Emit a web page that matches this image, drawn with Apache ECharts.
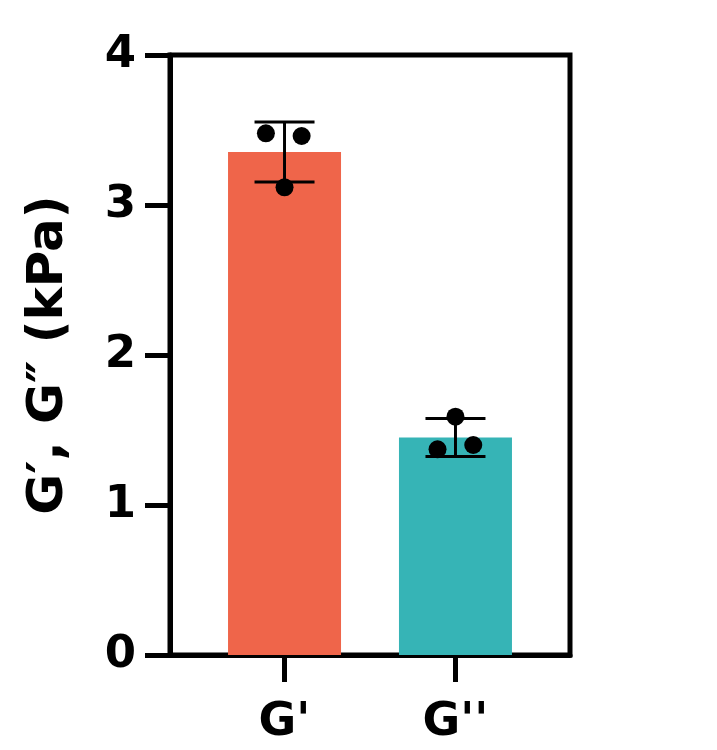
<!DOCTYPE html>
<html><head><meta charset="utf-8">
<script src="https://cdn.jsdelivr.net/npm/echarts@6/dist/echarts.min.js"></script>
<style>html,body{margin:0;padding:0;background:#fff}#c{width:717px;height:750px}</style>
</head><body><div id="c"></div>
<script>
const categories = ["G'", "G''"];
const positions = [1, 2];
const means = [3.353, 1.45];
const sds = [0.2, 0.126];
const barColors = ['#EF654A', '#36B4B6'];
const pointsG1 = [3.478, 3.46, 3.118];
const pointsG2 = [1.589, 1.371, 1.40];
const jitterG1 = [-0.109, 0.100, 0];
const jitterG2 = [0, -0.105, 0.104];
const yTicks = [0, 1, 2, 3, 4];

const FONT = 'DejaVu Sans';
const chart = echarts.init(document.getElementById('c'));

const barData = positions.map((p, i) => ({value: [p, means[i]], itemStyle: {color: barColors[i]}}));
const errData = positions.map((p, i) => [p, means[i] - sds[i], means[i] + sds[i]]);
const dotData = [];
pointsG1.forEach((v, i) => dotData.push([positions[0] + jitterG1[i], v]));
pointsG2.forEach((v, i) => dotData.push([positions[1] + jitterG2[i], v]));

chart.setOption({
  animation: false,
  grid: {left: 170, right: 147, top: 55, bottom: 95, show: true, borderColor: '#000', borderWidth: 5, backgroundColor: 'transparent'},
  xAxis: {
    type: 'value', min: 0.33, max: 2.67,
    splitLine: {show: false},
    axisLine: {show: true, lineStyle: {color: '#000', width: 5}},
    axisTick: {show: true, length: 27, lineStyle: {color: '#000', width: 5}, customValues: positions},
    axisLabel: {customValues: positions, margin: 45, color: '#000', fontFamily: FONT, fontWeight: 'bold', fontSize: 46,
      formatter: v => categories[positions.indexOf(v)] ?? ''}
  },
  yAxis: {
    type: 'value', min: 0, max: 4, interval: 1,
    splitLine: {show: false},
    axisLine: {show: true, lineStyle: {color: '#000', width: 5}},
    axisTick: {show: true, length: 25, lineStyle: {color: '#000', width: 5}},
    axisLabel: {margin: 34, color: '#000', fontFamily: FONT, fontWeight: 'bold', fontSize: 45,
      formatter: v => yTicks.includes(v) ? String(v) : ''},
    name: 'G\u2032, G\u2033 (kPa)', nameLocation: 'middle', nameGap: 96,
    nameTextStyle: {color: '#000', fontFamily: FONT, fontWeight: 'bold', fontSize: 50}
  },
  series: [
    {type: 'bar', data: barData, barWidth: 113, z: 2},
    {type: 'custom', z: 3, data: errData,
      renderItem: (params, api) => {
        const x = api.value(0);
        const lo = api.coord([x, api.value(1)]);
        const hi = api.coord([x, api.value(2)]);
        const hw = 30;
        const st = {stroke: '#000', lineWidth: 3};
        return {type: 'group', children: [
          {type: 'line', shape: {x1: lo[0], y1: lo[1], x2: hi[0], y2: hi[1]}, style: st},
          {type: 'line', shape: {x1: lo[0] - hw, y1: lo[1], x2: lo[0] + hw, y2: lo[1]}, style: st},
          {type: 'line', shape: {x1: hi[0] - hw, y1: hi[1], x2: hi[0] + hw, y2: hi[1]}, style: st}
        ]};
      }},
    {type: 'scatter', z: 4, data: dotData, symbolSize: 18, itemStyle: {color: '#000', opacity: 1}}
  ]
});
</script></body></html>
